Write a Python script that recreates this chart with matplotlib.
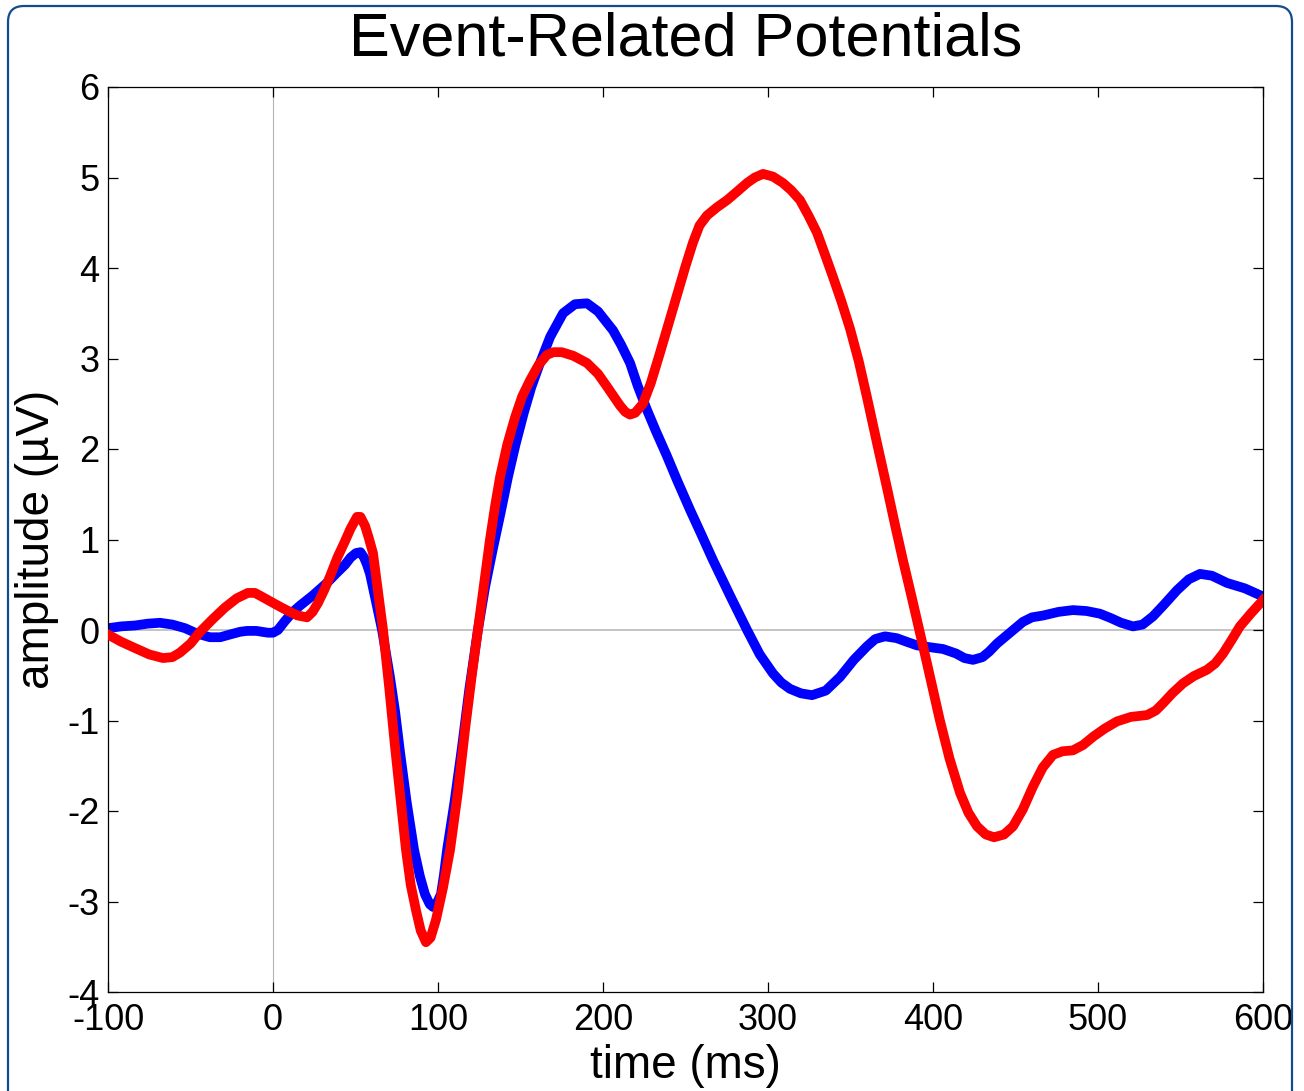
import matplotlib
matplotlib.use('Agg')
import matplotlib.pyplot as plt
from matplotlib.patches import FancyBboxPatch
from matplotlib.transforms import IdentityTransform

plt.rcParams['font.family'] = ['Liberation Sans', 'DejaVu Sans']
plt.rcParams['axes.unicode_minus'] = False

# values (time in ms, amplitude in uV)
t_blue = [-100, -92, -83.6, -76, -68.5, -61, -53.3, -46, -38.2, -32, -26.1, -20, -15.8, -10,
          -6.7, -3, 0, 3, 7.3, 12, 16.4, 24, 32.7, 38, 43.6, 47, 50.3, 53, 55.2, 57, 58.8,
          62, 66.1, 70.9, 74, 77, 81, 85.5, 89, 92.1, 95, 97, 99, 101.8, 103.5, 105.5, 110,
          114.5, 119, 124.2, 128.5, 133.3, 138, 142.4, 147, 152, 156.5, 161.8, 168, 175.8,
          183, 190.3, 197, 206.1, 211, 216.4, 221, 226.7, 232, 238.8, 245, 252.7, 260,
          266.7, 277, 287.3, 295, 303, 308, 313.3, 320, 326.7, 335, 343.6, 352, 360, 365,
          370.9, 378, 384, 390.3, 398, 406.1, 414, 419, 424.2, 430, 434, 438.8, 446, 454.5,
          460, 466.7, 476, 484.8, 493, 501.2, 508, 514, 521.2, 527, 533.3, 540, 547.9, 555,
          561.8, 569, 578.2, 589, 600]
v_blue = [0.02, 0.04, 0.05, 0.07, 0.08, 0.06, 0.02, -0.04, -0.08, -0.08, -0.05, -0.02, -0.01,
          -0.01, -0.02, -0.03, -0.03, 0.0, 0.10, 0.20, 0.27, 0.38, 0.52, 0.62, 0.72, 0.80,
          0.85, 0.86, 0.80, 0.72, 0.62, 0.35, 0.0, -0.52, -0.90, -1.35, -1.90, -2.43, -2.72,
          -2.92, -3.03, -3.06, -3.03, -2.92, -2.72, -2.43, -1.90, -1.30, -0.65, 0.0, 0.47,
          0.90, 1.30, 1.69, 2.05, 2.40, 2.68, 2.95, 3.24, 3.50, 3.60, 3.61, 3.52, 3.31,
          3.15, 2.95, 2.70, 2.43, 2.20, 1.92, 1.65, 1.33, 1.04, 0.77, 0.38, 0.0, -0.27,
          -0.48, -0.58, -0.65, -0.70, -0.72, -0.67, -0.52, -0.33, -0.18, -0.10, -0.07,
          -0.09, -0.13, -0.17, -0.19, -0.21, -0.26, -0.31, -0.33, -0.30, -0.24, -0.15,
          -0.04, 0.09, 0.14, 0.16, 0.20, 0.22, 0.21, 0.18, 0.13, 0.08, 0.04, 0.06, 0.15,
          0.28, 0.44, 0.56, 0.62, 0.60, 0.52, 0.46, 0.37]

t_red = [-100, -92, -83.6, -75, -66.7, -61, -56.4, -50, -44.2, -36, -29, -22, -15.2, -11,
         -7.9, -4, 0, 5, 10.3, 15, 20.6, 24, 27.3, 31, 34.5, 39, 43.6, 47, 50.9, 53, 55.8,
         58, 60.6, 63.5, 66.7, 70.5, 74, 77.5, 80.6, 83.5, 86.7, 89.5, 92.7, 95.5, 98.8,
         103, 107.3, 112, 116.4, 120.5, 124.2, 128, 131.5, 134.5, 137.6, 142, 146.7, 151,
         155.8, 161, 166, 170, 175, 182, 190.3, 197, 202.4, 206.5, 210.3, 213.5, 216.4,
         219.5, 224.2, 229, 234.5, 239.5, 244.8, 250, 254.5, 258.5, 263, 269, 275.2, 281,
         287.3, 292, 297, 303, 309, 314, 319.4, 324.5, 329.7, 334.5, 339.4, 344.5, 349.7,
         355, 360, 366, 372, 377, 381.8, 387, 392.1, 396, 400, 404.2, 410, 416.4, 421.5,
         426.7, 432, 437, 443, 448.5, 454.5, 460.6, 466.5, 472.7, 478.5, 484.8, 491, 497,
         504, 511.5, 520, 529.7, 535, 539.4, 545, 551.5, 558, 566, 571, 575.8, 581, 586,
         593, 600]
v_red = [-0.05, -0.13, -0.20, -0.27, -0.31, -0.30, -0.25, -0.15, -0.02, 0.13, 0.25, 0.35,
         0.41, 0.41, 0.38, 0.34, 0.30, 0.25, 0.20, 0.16, 0.14, 0.20, 0.30, 0.44, 0.59, 0.80,
         0.98, 1.12, 1.25, 1.25, 1.15, 1.02, 0.85, 0.45, 0.0, -0.65, -1.30, -1.90, -2.43,
         -2.82, -3.10, -3.32, -3.45, -3.40, -3.20, -2.85, -2.43, -1.80, -1.10, -0.50, 0.0,
         0.52, 1.00, 1.36, 1.69, 2.05, 2.35, 2.58, 2.76, 2.93, 3.04, 3.07, 3.07, 3.03, 2.95,
         2.83, 2.69, 2.58, 2.48, 2.41, 2.38, 2.40, 2.50, 2.73, 3.06, 3.37, 3.70, 4.02, 4.28,
         4.47, 4.58, 4.67, 4.75, 4.84, 4.94, 5.00, 5.04, 5.01, 4.94, 4.86, 4.75, 4.58, 4.39,
         4.15, 3.90, 3.63, 3.33, 2.97, 2.57, 2.07, 1.58, 1.16, 0.77, 0.37, -0.03, -0.34,
         -0.66, -1.00, -1.42, -1.80, -2.02, -2.17, -2.26, -2.29, -2.26, -2.17, -1.98, -1.73,
         -1.52, -1.38, -1.34, -1.33, -1.27, -1.18, -1.09, -1.01, -0.96, -0.94, -0.89, -0.81,
         -0.70, -0.59, -0.51, -0.44, -0.37, -0.26, -0.11, 0.04, 0.19, 0.33]

xticks = [-100, 0, 100, 200, 300, 400, 500, 600]
yticks = [-4, -3, -2, -1, 0, 1, 2, 3, 4, 5, 6]

fig = plt.figure(figsize=(13.04, 10.91), dpi=100)
ax = fig.add_axes([108/1304, 1 - 992/1091, 1155/1304, 905/1091])

ax.axhline(0, color='#c4c4c4', lw=1.4, zorder=1)
ax.axvline(0, color='#b4b4b4', lw=0.8, zorder=1)
ax.plot(t_blue, v_blue, color='#0000ff', lw=7, solid_joinstyle='round', zorder=2)
ax.plot(t_red, v_red, color='#ff0000', lw=7, solid_joinstyle='round', zorder=3)

ax.set_xlim(-100, 600)
ax.set_ylim(-4, 6)
ax.set_xticks(xticks)
ax.set_yticks(yticks)
ax.tick_params(direction='in', length=7, width=0.9, top=True, right=True,
               labelsize=26, pad=6, colors='black')
ax.tick_params(axis='x', pad=8)
for s in ax.spines.values():
    s.set_linewidth(0.9)

ax.set_title('Event-Related Potentials', fontsize=44, pad=23)
ax.set_xlabel('time (ms)', fontsize=33, labelpad=4)
ax.set_ylabel('amplitude (\u00b5V)', fontsize=33, labelpad=6)

border = FancyBboxPatch((8, -40), 1284, 1085 + 40, boxstyle='round,pad=0,rounding_size=16',
                        transform=IdentityTransform(), facecolor='none',
                        edgecolor='#134c8c', lw=1.6, clip_on=False)
fig.patches.append(border)

fig.savefig('out.png', dpi=100)
